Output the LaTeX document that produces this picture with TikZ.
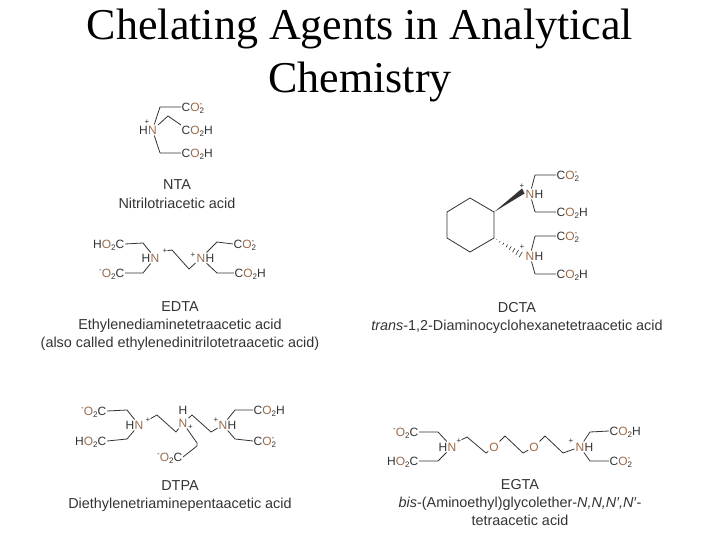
\documentclass[tikz,border=0pt]{standalone}
\usepackage{fontspec}
\usepackage{xcolor}
\setmainfont{Liberation Sans}
\newfontfamily\titlefont{Liberation Serif}
\usetikzlibrary{positioning}
\definecolor{ink}{HTML}{333333}
\definecolor{hetero}{HTML}{9C6A48}
\newcommand{\het}[1]{\textcolor{hetero}{#1}}
\newcommand{\smallnum}[1]{{\fontsize{8}{8}\selectfont #1}}
\newcommand{\COH}{C\het{O}\raisebox{-2.5pt}{\smallnum{2}}H}
\newcommand{\COM}{C\het{O}\rlap{\raisebox{-2.5pt}{\smallnum{2}}}\raisebox{4.5pt}{\smallnum{-}}}
\newcommand{\HOC}{H\het{O}\raisebox{-2.5pt}{\smallnum{2}}C}
\newcommand{\MOC}{\raisebox{4.5pt}{\smallnum{-}}\het{O}\raisebox{-2.5pt}{\smallnum{2}}C}

\begin{document}
\begin{tikzpicture}[x=1pt, y=-1pt,
    atom/.style={inner sep=1pt, text=ink, text height=8.6pt, text depth=0pt, font=\fontsize{12}{12}\selectfont},
    group/.style={atom, inner sep=0.5pt},
    charge/.style={inner sep=0pt, text=ink, font=\fontsize{8}{8}\selectfont},
    chemname/.style={inner sep=0pt, text=ink, text height=10pt, text depth=0pt, minimum height=18pt, font=\fontsize{14.4}{14.4}\selectfont},
    bond/.style={draw=ink, line width=0.8pt, line join=round}]
    \useasboundingbox (0,0) rectangle (720,540);

    \node[inner sep=0pt, align=center, font=\titlefont\fontsize{44}{53}\selectfont] (heading) at (360,55) {Chelating Agents in Analytical\\Chemistry};

    % NTA
    \node[atom] (ntaN) at (152.5,130) {\het{N}};
    \node[atom, left=-2pt of ntaN] (ntaH) {H};
    \node[charge] (ntaP) at (147,122) {+};
    \node[group, anchor=west] (ntaA) at (181,107) {\COM};
    \node[group, anchor=west] (ntaB) at (181,130) {\COH};
    \node[group, anchor=west] (ntaC) at (181,153) {\COH};
    \draw[bond] (ntaN) -- (160,107) -- (ntaA.west);
    \draw[bond] (ntaN) -- (168,116) -- (ntaB.north west);
    \draw[bond] (ntaN) -- (160,153) -- (ntaC.west);
    \node[chemname] (ntaName) at (177,185) {NTA};
    \node[chemname, below=0pt of ntaName] (ntaFull) {Nitrilotriacetic acid};

    % EDTA
    \node[atom] (edtaL) at (155,258) {\het{N}};
    \node[atom, left=-2pt of edtaL] (edtaLH) {H};
    \node[atom] (edtaR) at (201,258) {\het{N}};
    \node[atom, right=-2pt of edtaR] (edtaRH) {H};
    \node[charge] (edtaLP) at (165,251) {+};
    \node[charge] (edtaRP) at (193,255) {+};
    \node[group, anchor=east] (edtaA) at (125,244) {\HOC};
    \node[group, anchor=east] (edtaB) at (125,273) {\MOC};
    \node[group, anchor=west] (edtaC) at (233,244) {\COM};
    \node[group, anchor=west] (edtaD) at (234,273) {\COH};
    \draw[bond] (edtaA.east) -- (143,243) -- (edtaL);
    \draw[bond] (edtaB.east) -- (143,273) -- (edtaL);
    \draw[bond] (edtaLP) -- (172,250) -- (189,269) -- (edtaR);
    \draw[bond] (edtaR) -- (217,242) -- (edtaC.west);
    \draw[bond] (edtaR) -- (217,273) -- (edtaD.west);
    \node[chemname] (edtaName) at (180,306) {EDTA};
    \node[chemname, below=0pt of edtaName] (edtaFull) {Ethylenediaminetetraacetic acid};
    \node[chemname, below=0pt of edtaFull] (edtaAlso) {(also called ethylenedinitrilotetraacetic acid)};

    % DCTA
    \coordinate (ringA) at (470,198);
    \coordinate (ringB) at (494,212);
    \coordinate (ringC) at (494,238);
    \coordinate (ringD) at (470,252);
    \coordinate (ringE) at (447,238);
    \coordinate (ringF) at (447,212);
    \draw[bond] (ringA) -- (ringB) -- (ringC) -- (ringD) -- (ringE) -- (ringF) -- cycle;
    \node[atom] (dctaT) at (530,194) {\het{N}};
    \node[atom, right=-2pt of dctaT] (dctaTH) {H};
    \node[atom] (dctaU) at (530,256) {\het{N}};
    \node[atom, right=-2pt of dctaU] (dctaUH) {H};
    \node[charge] (dctaTP) at (522,186) {+};
    \node[charge] (dctaUP) at (522,247) {+};
    \fill[ink] (ringB) -- (522,188.5) -- (524.5,193.5) -- cycle;
    \foreach \t in {0.08,0.2,...,1.0}
        \draw[ink, line width=0.6pt] ({494+29*\t-1.8*\t},{238+18*\t+3*\t}) -- ({494+29*\t+1.8*\t},{238+18*\t-3*\t});
    \node[group, anchor=west] (dctaA) at (556,175) {\COM};
    \node[group, anchor=west] (dctaB) at (556,212) {\COH};
    \node[group, anchor=west] (dctaC) at (556,236) {\COM};
    \node[group, anchor=west] (dctaD) at (556,274) {\COH};
    \draw[bond] (dctaT) -- (535,175) -- (dctaA.west);
    \draw[bond] (dctaT) -- (535,212) -- (dctaB.west);
    \draw[bond] (dctaU) -- (535,236) -- (dctaC.west);
    \draw[bond] (dctaU) -- (535,274) -- (dctaD.west);
    \node[chemname] (dctaName) at (517,307) {DCTA};
    \node[chemname, below=0pt of dctaName] (dctaFull) {\textit{trans}-1,2-Diaminocyclohexanetetraacetic acid};

    % DTPA
    \node[atom] (dtpaL) at (139,425) {\het{N}};
    \node[atom, left=-2pt of dtpaL] (dtpaLH) {H};
    \node[atom] (dtpaM) at (183,423) {\het{N}};
    \node[atom, above=2pt of dtpaM] (dtpaMH) {H};
    \node[atom] (dtpaR) at (223,425) {\het{N}};
    \node[atom, right=-2pt of dtpaR] (dtpaRH) {H};
    \node[charge] (dtpaLP) at (148,420) {+};
    \node[charge] (dtpaMP) at (190.5,427) {+};
    \node[charge] (dtpaRP) at (216,420) {+};
    \node[group, anchor=east] (dtpaA) at (107,411) {\MOC};
    \node[group, anchor=east] (dtpaB) at (107,441) {\HOC};
    \node[group, anchor=east] (dtpaC) at (183,457) {\MOC};
    \node[group, anchor=west] (dtpaD) at (253,410) {\COH};
    \node[group, anchor=west] (dtpaE) at (253,441) {\COM};
    \draw[bond] (dtpaA.east) -- (127,410) -- (dtpaL);
    \draw[bond] (dtpaB.east) -- (127,439) -- (dtpaL);
    \draw[bond] (dtpaLP) -- (157,415) -- (176,432) -- (dtpaM);
    \draw[bond] (dtpaM) -- (192,415) -- (211,432) -- (dtpaR);
    \draw[bond] (dtpaR) -- (235,410) -- (dtpaD.west);
    \draw[bond] (dtpaR) -- (235,439) -- (dtpaE.west);
    \draw[bond] (dtpaM) -- (197,443) -- (197,446) -- (dtpaC.east);
    \node[chemname] (dtpaName) at (180,485) {DTPA};
    \node[chemname, below=0pt of dtpaName] (dtpaFull) {Diethylenetriaminepentaacetic acid};

    % EGTA
    \node[atom] (egtaL) at (452,447) {\het{N}};
    \node[atom, left=-2pt of egtaL] (egtaLH) {H};
    \node[atom] (egtaO) at (494,447) {\het{O}};
    \node[atom] (egtaQ) at (534,447) {\het{O}};
    \node[atom] (egtaR) at (580,447) {\het{N}};
    \node[atom, right=-2pt of egtaR] (egtaRH) {H};
    \node[charge] (egtaLP) at (459,441) {+};
    \node[charge] (egtaRP) at (571,441) {+};
    \node[group, anchor=east] (egtaA) at (419,432) {\MOC};
    \node[group, anchor=east] (egtaB) at (419,461) {\HOC};
    \node[group, anchor=west] (egtaC) at (609,431) {\COH};
    \node[group, anchor=west] (egtaD) at (609,461) {\COM};
    \draw[bond] (egtaA.east) -- (438,432) -- (egtaL);
    \draw[bond] (egtaB.east) -- (438,461) -- (egtaL);
    \draw[bond] (egtaLP) -- (467,437) -- (486,453) -- (egtaO);
    \draw[bond] (egtaO) -- (505,436) -- (523,453) -- (egtaQ);
    \draw[bond] (egtaQ) -- (545,436) -- (563,453) -- (egtaR);
    \draw[bond] (egtaR) -- (590,432) -- (egtaC.west);
    \draw[bond] (egtaR) -- (590,461) -- (egtaD.west);
    \node[chemname] (egtaName) at (520,484) {EGTA};
    \node[chemname, below=0pt of egtaName] (egtaFull) {\textit{bis}-(Aminoethyl)glycolether-\textit{N,N,N′,N′}-};
    \node[chemname, below=0pt of egtaFull] (egtaAcid) {tetraacetic acid};
\end{tikzpicture}
\end{document}
